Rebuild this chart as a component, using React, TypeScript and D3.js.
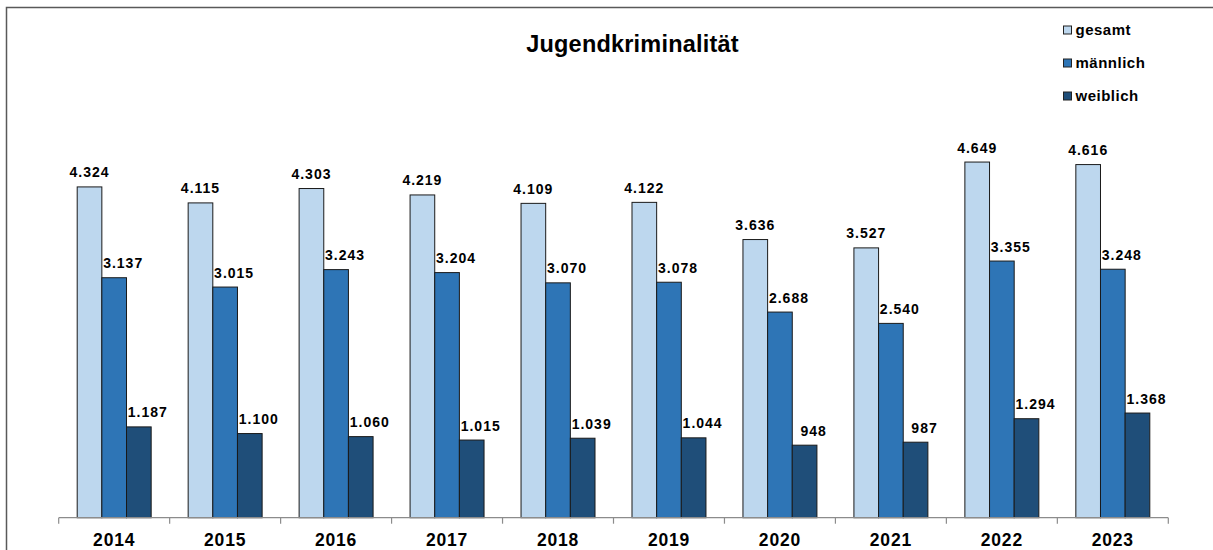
import React from "react";
import * as d3 from "d3";

const years = ["2014", "2015", "2016", "2017", "2018", "2019", "2020", "2021", "2022", "2023"];
const seriesNames = ["gesamt", "männlich", "weiblich"];
const gesamt = [4324, 4115, 4303, 4219, 4109, 4122, 3636, 3527, 4649, 4616];
const maennlich = [3137, 3015, 3243, 3204, 3070, 3078, 2688, 2540, 3355, 3248];
const weiblich = [1187, 1100, 1060, 1015, 1039, 1044, 948, 987, 1294, 1368];
const colors = ["#BDD7EE", "#2E75B6", "#1F4E79"];
const labelOffsets = [0, 9, 9];

const W = 1213;
const H = 550;
const FONT = "Arial, 'Liberation Sans', Helvetica, sans-serif";

const locale = d3.formatLocale({ decimal: ",", thousands: ".", grouping: [3], currency: ["", "€"] });
const fmt = locale.format(",d");

export default function App() {
  const series = [gesamt, maennlich, weiblich];
  const x0 = d3.scaleBand<string>().domain(years).range([58.7, 1168.3]).padding(0);
  const x1 = d3
    .scaleBand<number>()
    .domain([0, 1, 2])
    .range([0, x0.bandwidth()])
    .paddingInner(0)
    .paddingOuter(0.75);
  const y = d3.scaleLinear().domain([0, 5000]).range([517.7, 135.2]);
  const base = y(0);
  const ticks = [...years.map((yr) => x0(yr) as number), 1168.3];

  return (
    <svg
      width={W}
      height={H}
      style={{ position: "absolute", left: 0, top: 0, background: "#fff" }}
      fontFamily={FONT}
    >
      <rect x={0} y={0} width={W} height={H} fill="#fff" />
      <path d="M6.5,550 V7.5 H1213" fill="none" stroke="#595959" strokeWidth={1.5} />
      <text
        x={632.5}
        y={52}
        textAnchor="middle"
        fontSize={23.5}
        fontWeight="bold"
        letterSpacing={0.2}
        fill="#000"
      >
        Jugendkriminalität
      </text>

      {/* Legend */}
      {seriesNames.map((name, i) => (
        <g key={name} transform={`translate(1063.5, ${26 + i * 33})`}>
          <rect x={0} y={0} width={8} height={8} fill={colors[i]} stroke="#222" strokeWidth={1} />
          <text x={12} y={9} fontSize={15} fontWeight="bold" fill="#000" letterSpacing={0.5}>
            {name}
          </text>
        </g>
      ))}

      {/* Bars */}
      {years.map((yr, gi) => (
        <g key={yr} transform={`translate(${x0(yr)},0)`}>
          {series.map((vals, si) => {
            const bx = x1(si) as number;
            const bw = x1.bandwidth();
            const top = y(vals[gi]);
            return (
              <g key={si}>
                <rect
                  x={bx}
                  y={top}
                  width={bw}
                  height={base - top}
                  fill={colors[si]}
                  stroke="#1a1a1a"
                  strokeWidth={1}
                />
                <text
                  x={bx + bw / 2 + labelOffsets[si]}
                  y={top - 9.5}
                  textAnchor="middle"
                  fontSize={14}
                  fontWeight="bold"
                  letterSpacing={1}
                  fill="#000"
                >
                  {fmt(vals[gi])}
                </text>
              </g>
            );
          })}
        </g>
      ))}

      {/* Axis */}
      <line x1={58.7} x2={1168.3} y1={base} y2={base} stroke="#8c8c8c" strokeWidth={1.2} />
      {ticks.map((t, i) => (
        <line key={i} x1={t} x2={t} y1={base} y2={base + 6} stroke="#8c8c8c" strokeWidth={1.2} />
      ))}
      {years.map((yr) => (
        <text
          key={yr}
          x={(x0(yr) as number) + x0.bandwidth() / 2}
          y={546}
          textAnchor="middle"
          fontSize={17.5}
          fontWeight="bold"
          letterSpacing={0.8}
          fill="#000"
        >
          {yr}
        </text>
      ))}
    </svg>
  );
}
